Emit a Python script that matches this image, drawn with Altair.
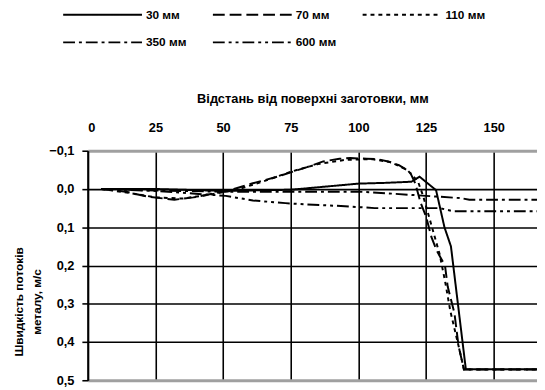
import altair as alt
import pandas as pd

series = ["30 мм", "70 мм", "110 мм", "350 мм", "600 мм"]
dashes = [[1, 0], [12, 5], [4, 4], [12, 4, 3, 4], [12, 4, 3, 4, 3, 4]]

x30 = [5, 25, 50, 75, 100, 110, 119.6, 122.6, 128.7, 131.8, 134.2, 139.7, 166]
y30 = [0, 0, 0.005, 0.002, -0.014, -0.016, -0.019, -0.032, 0.003, 0.1, 0.15, 0.471, 0.471]

x70 = [5, 14, 22, 32, 39, 47, 54, 61, 70, 77, 81, 87, 93, 97, 103, 107, 111, 115, 119, 121,
       123, 125, 127, 129, 132, 133, 135.5, 137, 139, 166]
y70 = [0, 0.007, 0.02, 0.028, 0.022, 0.011, 0, -0.015, -0.032, -0.048, -0.057, -0.072, -0.079,
       -0.081, -0.079, -0.078, -0.072, -0.062, -0.045, -0.015, 0.036, 0.072, 0.126, 0.162, 0.2,
       0.255, 0.325, 0.41, 0.472, 0.472]

x110 = [5, 15, 25, 35, 45, 55, 65, 75, 85, 95, 105, 112, 118, 122, 124, 126, 128, 130, 132,
        134, 136, 138, 139, 166]
y110 = [0, 0.01, 0.022, 0.025, 0.015, 0.002, -0.02, -0.045, -0.065, -0.076, -0.078, -0.07,
        -0.05, -0.02, 0.02, 0.07, 0.12, 0.17, 0.24, 0.32, 0.38, 0.44, 0.472, 0.472]

x350 = [5, 25, 50, 75, 100, 110, 125, 138, 141, 166]
y350 = [0, 0.004, 0.007, 0.007, 0.007, 0.011, 0.018, 0.024, 0.028, 0.028]

x600 = [5, 25, 51, 61, 73, 80, 95, 106, 130, 135, 166]
y600 = [0, 0.005, 0.018, 0.03, 0.037, 0.04, 0.045, 0.05, 0.05, 0.058, 0.058]

x_ticks = [0, 25, 50, 75, 100, 125, 150]
y_ticks = [-0.1, 0.0, 0.1, 0.2, 0.3, 0.4, 0.5]

rows = []
for name, xs, ys in zip(series, [x30, x70, x110, x350, x600], [y30, y70, y110, y350, y600]):
    for i, (a, b) in enumerate(zip(xs, ys)):
        rows.append({"series": name, "x": a, "y": b, "order": i})
df = pd.DataFrame(rows)

FONT = "Liberation Sans"

chart = alt.Chart(df).mark_line(clip=True, strokeWidth=2, color="black").encode(
    x=alt.X("x:Q",
            scale=alt.Scale(domain=[0, 166], nice=False, zero=False),
            axis=alt.Axis(orient="top", values=x_ticks, title="Відстань від поверхні заготовки, мм",
                          labelFont=FONT, labelFontWeight="bold", labelFontSize=13, labelColor="black",
                          ticks=False, tickSize=0, labelPadding=17, domain=False,
                          grid=True, gridColor="black", gridWidth=1.6, gridOpacity=1,
                          titleFont=FONT, titleFontWeight="bold", titleFontSize=13, titleColor="black",
                          titleY=-53, titleBaseline="middle")),
    y=alt.Y("y:Q",
            scale=alt.Scale(domain=[-0.1, 0.5], reverse=True, nice=False, zero=False),
            axis=alt.Axis(values=y_ticks,
                          labelExpr="replace(format(datum.value, '.1f'), '.', ',')",
                          labelFont=FONT, labelFontWeight="bold", labelFontSize=13, labelColor="black",
                          tickSize=6, tickColor="black", tickWidth=1.6, labelPadding=8,
                          domainColor="black", domainWidth=2,
                          grid=True,
                          gridColor={"condition": {"test": "datum.value < -0.05 || datum.value > 0.45", "value": "#a0a0a0"}, "value": "black"},
                          gridWidth={"condition": {"test": "datum.value < -0.05 || datum.value > 0.45", "value": 3}, "value": 1.6},
                          gridOpacity=1,
                          title=["Швидкість потоків", "металу, м/с"],
                          titleFont=FONT, titleFontWeight="bold", titleFontSize=12, titleColor="black",
                          titleX=-70, titleY=153, titleAngle=-90, titleLineHeight=18,
                          titleBaseline="middle", titleAlign="center")),
    strokeDash=alt.StrokeDash("series:N",
                              scale=alt.Scale(domain=series, range=dashes),
                              legend=alt.Legend(orient="none", legendX=9, legendY=-144, title=None,
                                                direction="horizontal",
                                                columns=3, symbolType="M-10,0H10", symbolSize=64,
                                                symbolStrokeWidth=2, symbolStrokeColor="black",
                                                labelFont=FONT, labelFontWeight="bold", labelFontSize=12,
                                                labelColor="black", labelOffset=38, columnPadding=22,
                                                rowPadding=16)),
    order="order:Q",
).properties(
    width=456, height=233,
    autosize=alt.AutoSizeParams(type="none"),
    padding={"left": 81, "top": 142, "right": 0, "bottom": 7},
).configure_view(stroke=None)

chart.save("out.html", embed_options={"renderer": "svg", "actions": False})
